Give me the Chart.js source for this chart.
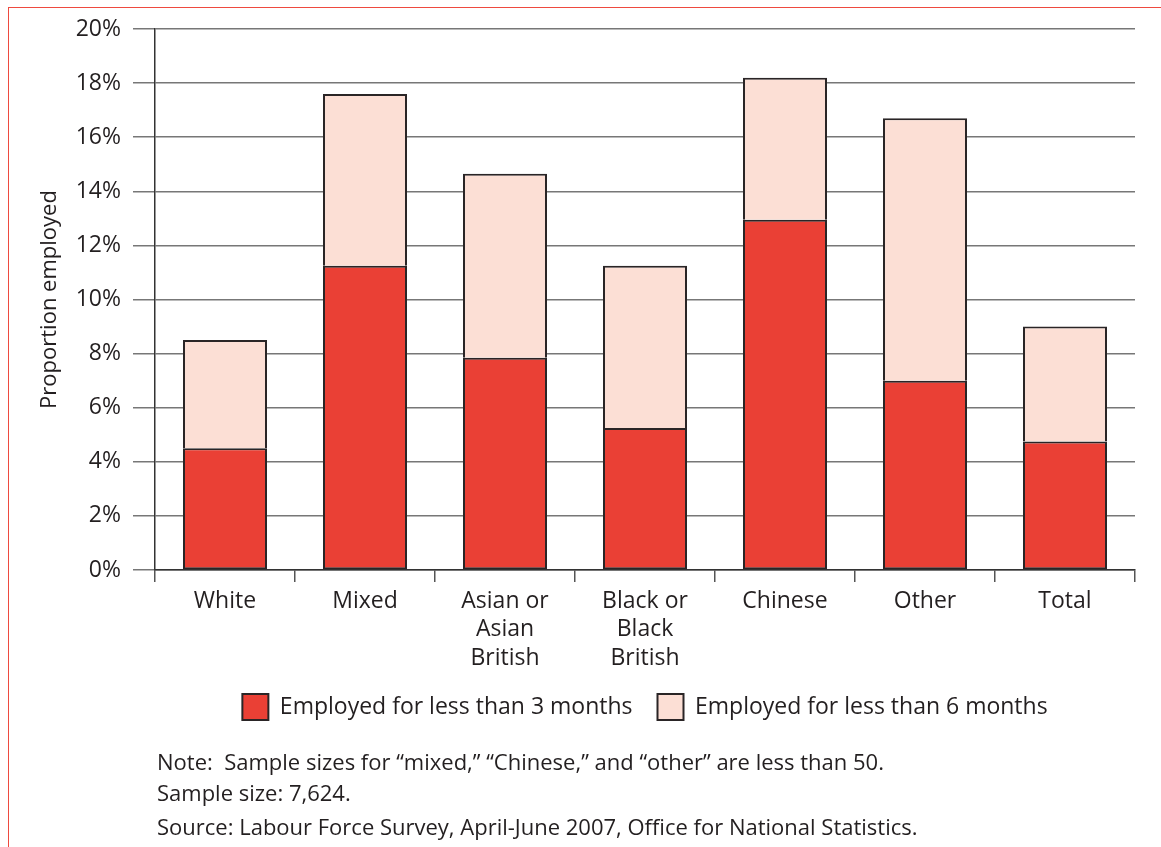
<!DOCTYPE html>
<html>
<head>
<meta charset="utf-8">
<script src="https://cdn.jsdelivr.net/npm/chart.js@4.4.1/dist/chart.umd.min.js"></script>
<style>
  html, body { margin: 0; padding: 0; background: #ffffff; }
  #wrap { position: relative; width: 1161px; height: 847px; overflow: hidden; }
  #frame { position: absolute; left: 8px; top: 7px; width: 1200px; height: 900px;
           border-left: 1.5px solid #ee4a3f; border-top: 1.5px solid #ee4a3f; }
  canvas { position: absolute; left: 0; top: 0; }
</style>
</head>
<body>
<div id="wrap">
  <div id="frame"></div>
  <canvas id="c" width="1161" height="847"></canvas>
</div>
<script>
// ---- Data ----
const categories = [["White"], ["Mixed"], ["Asian or", "Asian", "British"], ["Black or", "Black", "British"], ["Chinese"], ["Other"], ["Total"]];
const lessThan3Months = [4.5, 11.25, 7.85, 5.25, 12.95, 7.0, 4.75];   // % employed < 3 months
const lessThan6Months = [8.5, 17.6, 14.65, 11.25, 18.2, 16.7, 9.0];   // % employed < 6 months (total bar height)
const yTicks = [0, 2, 4, 6, 8, 10, 12, 14, 16, 18, 20];
const seriesNames = ["Employed for less than 3 months", "Employed for less than 6 months"];
const notes = [
  "Note:  Sample sizes for \u201cmixed,\u201d \u201cChinese,\u201d and \u201cother\u201d are less than 50.",
  "Sample size: 7,624.",
  "Source: Labour Force Survey, April-June 2007, Office for National Statistics."
];

// stacked increment of the 6-month series above the 3-month series
const sixMonthIncrement = lessThan6Months.map((v, i) => +(v - lessThan3Months[i]).toFixed(2));

const FONT = "'Open Sans', 'DejaVu Sans', sans-serif";
const TXT = "#231f20";

const notesPlugin = {
  id: 'notes',
  afterDraw(chart) {
    const ctx = chart.ctx;
    ctx.save();
    ctx.fillStyle = TXT;
    ctx.font = "22px " + FONT;
    ctx.textBaseline = "alphabetic";
    ctx.textAlign = "left";
    const ys = [770, 801, 835];
    notes.forEach((t, i) => ctx.fillText(t, 157, ys[i]));
    ctx.restore();
  }
};

// centre the legend on the plot area instead of the whole canvas
const legendCenter = {
  id: 'legendCenter',
  afterLayout(chart) {
    if (chart.legend) {
      chart.legend.left = chart.chartArea.left;
      chart.legend.right = chart.chartArea.right;
      chart.legend.width = chart.chartArea.right - chart.chartArea.left;
    }
  }
};

new Chart(document.getElementById('c'), {
  type: 'bar',
  data: {
    labels: categories,
    datasets: [
      {
        label: seriesNames[0],
        data: lessThan3Months,
        backgroundColor: '#ea4035',
        borderColor: '#2a2526',
        borderWidth: 2,
        borderSkipped: false,
        barPercentage: 0.6,
        categoryPercentage: 1.0
      },
      {
        label: seriesNames[1],
        data: sixMonthIncrement,
        backgroundColor: '#fcdfd5',
        borderColor: '#2a2526',
        borderWidth: 2,
        borderSkipped: 'start',
        barPercentage: 0.6,
        categoryPercentage: 1.0
      }
    ]
  },
  options: {
    responsive: false,
    animation: false,
    devicePixelRatio: 1,
    layout: { padding: { top: 29, right: 26, left: 0, bottom: 117 } },
    plugins: {
      tooltip: { enabled: false },
      legend: {
        position: 'bottom',
        labels: {
          font: { family: FONT, size: 23 },
          color: TXT,
          boxWidth: 26,
          boxHeight: 26,
          padding: 25
        }
      }
    },
    scales: {
      x: {
        stacked: true,
        offset: true,
        grid: {
          display: true,
          offset: true,
          drawOnChartArea: false,
          drawTicks: true,
          tickLength: 12,
          color: '#555',
          lineWidth: 1.5
        },
        border: { display: true, color: '#333', width: 1.5 },
        ticks: {
          font: { family: FONT, size: 23, lineHeight: 1.24 },
          color: TXT,
          padding: 5,
          maxRotation: 0,
          autoSkip: false
        },
        afterFit(scale) { scale.height = 99; }
      },
      y: {
        stacked: true,
        min: 0,
        max: 20,
        afterBuildTicks(scale) { scale.ticks = yTicks.map(v => ({ value: v })); },
        grid: {
          color: '#777',
          lineWidth: 1.5,
          drawTicks: true,
          tickLength: 22
        },
        border: { display: true, color: '#333', width: 1.5 },
        ticks: {
          font: { family: FONT, size: 23 },
          color: TXT,
          padding: 12,
          callback: v => v + '%'
        },
        title: {
          display: true,
          text: 'Proportion employed',
          font: { family: FONT, size: 22 },
          color: TXT,
          padding: { top: 37, bottom: 0 }
        },
        afterFit(scale) { scale.width = 155; }
      }
    }
  },
  plugins: [notesPlugin, legendCenter]
});
</script>
</body>
</html>
